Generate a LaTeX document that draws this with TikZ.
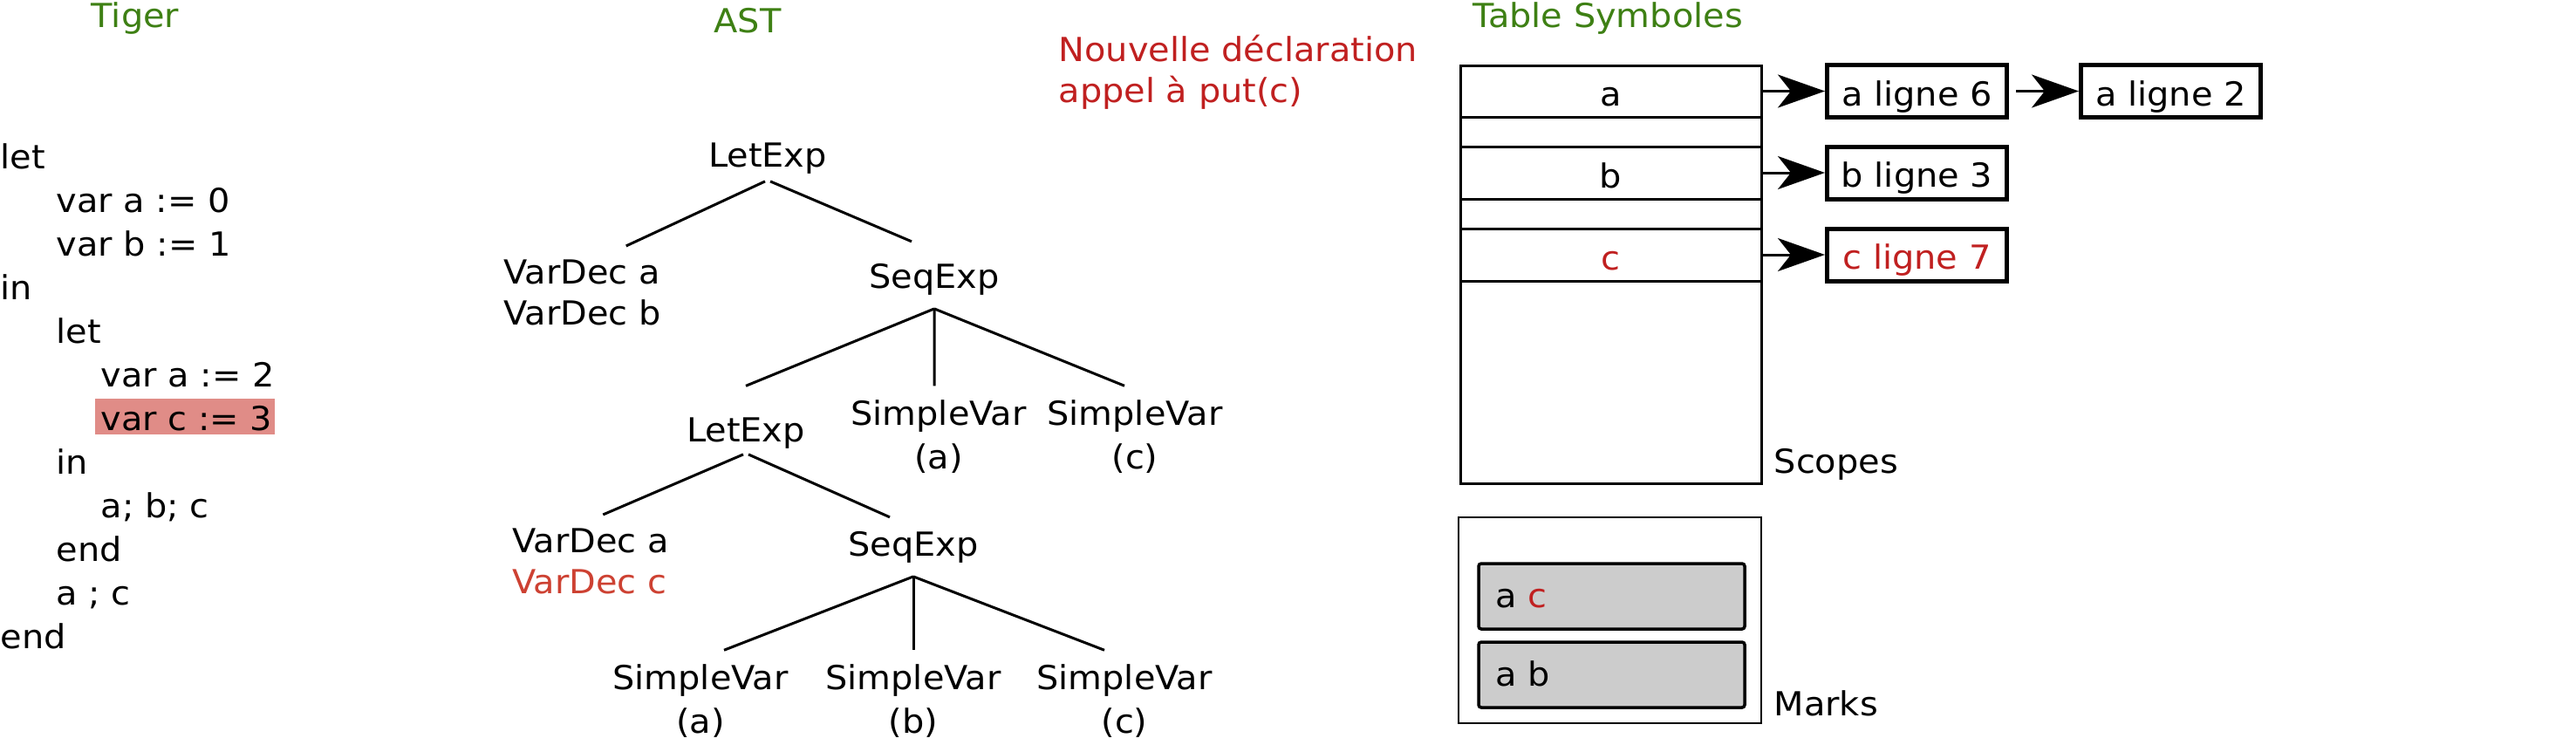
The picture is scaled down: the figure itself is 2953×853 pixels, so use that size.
\documentclass[tikz,border=0pt]{standalone}
\usepackage{fontspec}
\setmainfont{DejaVu Sans}[FakeStretch=1.05]
\usetikzlibrary{positioning, arrows.meta}

\definecolor{titlegreen}{RGB}{62,128,20}
\definecolor{declred}{RGB}{192,32,32}
\definecolor{vdred}{RGB}{205,65,50}
\definecolor{hilite}{RGB}{224,140,135}

\tikzset{
  title/.style={text=titlegreen, anchor=base},
  codeline/.style={anchor=base west},
  astnode/.style={align=center, anchor=base, outer ysep=1.6mm},
  svnode/.style={astnode, font=\fontsize{10.8}{14.2}\selectfont},
  treeline/.style={line width=0.3mm},
  tabrow/.style={draw, line width=0.3mm, minimum width=34.5mm, outer sep=0pt,
    text height=3.4mm, text depth=0pt},
  lignebox/.style={draw, line width=0.5mm, minimum width=20.6mm, minimum height=6mm,
    text height=3.3mm, text depth=0pt},
  ptr/.style={-{Stealth[length=5.4mm, width=3.8mm, inset=1.5mm]}, line width=0.3mm},
  markrow/.style={draw, fill=black!20, line width=0.35mm, rounded corners=0.3mm,
    minimum width=30.5mm, minimum height=7.5mm, text width=26.7mm, align=left,
    inner xsep=1.9mm, outer sep=0pt, text height=2.6mm, text depth=0pt},
}

\begin{document}
\begin{tikzpicture}[x=0.1mm, y=-0.1mm,
  every node/.style={font=\fontsize{10.8}{13.2}\selectfont, inner sep=0pt}]
\useasboundingbox (0,0) rectangle (2953,853);

% titles
\node[title] (tiger) at (155,31) {Tiger};
\node[title] (ast) at (857,37) {AST};
\node[title] (tabsym) at (1843,31) {Table Symboles};

% Tiger source
\fill[hilite] (109,457) rectangle (315,498);
\foreach \txt/\ind [count=\i] in {let/0, {var a := 0}/64, {var b := 1}/64, in/0,
    let/64, {var a := 2}/115, {var c := 3}/115, in/64, {a; b; c}/115, end/64,
    {a ; c}/64, end/0}
  \node[codeline] (code\i) at (\ind, {193+50*(\i-1)}) {\txt};

% AST (multi-line nodes sit on their last line)
\node[astnode] (let1) at (880,191) {LetExp};
\node[astnode, align=left, anchor=base west] (vd1) at (577,372) {VarDec a\\VarDec b};
\node[astnode] (seq1) at (1071,330) {SeqExp};
\node[astnode] (let2) at (855,506) {LetExp};
\node[svnode] (sva1) at (1076,537) {SimpleVar\\(a)};
\node[svnode] (svc1) at (1301,537) {SimpleVar\\(c)};
\node[astnode, align=left, anchor=base west] (vd2) at (587,680)
  {VarDec a\\\textcolor{vdred}{VarDec c}};
\node[astnode] (seq2) at (1047,637) {SeqExp};
\node[svnode] (sva2) at (803,840) {SimpleVar\\(a)};
\node[svnode] (svb2) at (1047,840) {SimpleVar\\(b)};
\node[svnode] (svc2) at (1289,840) {SimpleVar\\(c)};

\draw[treeline] ([xshift=-0.3mm, yshift=0.7mm]let1.south) -- ([xshift=5mm]vd1.north);
\draw[treeline] ([xshift=0.3mm, yshift=0.7mm]let1.south) -- ([xshift=-2.6mm, yshift=0.9mm]seq1.north);
\draw[treeline] (seq1.south) -- ([yshift=2mm]let2.north);
\draw[treeline] (seq1.south) -- ([xshift=-0.5mm]sva1.north);
\draw[treeline] (seq1.south) -- ([xshift=-1.2mm]svc1.north);
\draw[treeline] ([xshift=-0.3mm, yshift=0.9mm]let2.south) -- ([xshift=1.4mm]vd2.north);
\draw[treeline] ([xshift=0.3mm, yshift=0.9mm]let2.south) -- ([xshift=-2.7mm]seq2.north);
\draw[treeline] (seq2.south) -- ([xshift=2.7mm]sva2.north);
\draw[treeline] (seq2.south) -- (svb2.north);
\draw[treeline] (seq2.south) -- ([xshift=-2.3mm]svc2.north);

% note
\node[anchor=base west, align=left, text=declred] (note) at (1213,117)
  {Nouvelle déclaration\\appel à put(c)};

% symbol table: scopes
\node[tabrow, minimum height=5.9mm] (ra) at (1846.5,104.5) {a};
\node[tabrow, minimum height=3.4mm, below=0pt of ra] (gap1) {};
\node[tabrow, minimum height=6mm, below=0pt of gap1] (rb) {b};
\node[tabrow, minimum height=3.2mm, below=0pt of rb] (gap2) {};
\node[tabrow, minimum height=6mm, below=0pt of gap2, text=declred] (rc) {c};
\node[tabrow, minimum height=23.2mm, below=0pt of rc] (rrest) {};
\node[anchor=base west] (scopes) at ([xshift=1.4mm, yshift=1.2mm]rrest.south east) {Scopes};

\node[lignebox, right=7.3mm of ra] (al6) {a ligne 6};
\node[lignebox, right=8mm of al6] (al2) {a ligne 2};
\node[lignebox, right=7.3mm of rb] (bl3) {b ligne 3};
\node[lignebox, right=7.3mm of rc, text=declred] (cl7) {c ligne 7};

\draw[ptr] (ra.east) -- (al6.west);
\draw[ptr, shorten <=0.8mm] (al6.east) -- (al2.west);
\draw[ptr] (rb.east) -- (bl3.west);
\draw[ptr] (rc.east) -- (cl7.west);

% marks
\node[draw, line width=0.25mm, minimum width=34.7mm, minimum height=23.6mm,
  outer sep=0pt] (marks) at (1845.5,711) {};
\node[markrow] (mk1) at (1847.5,683.5) {a \textcolor{declred}{c}};
\node[markrow, below=1.5mm of mk1] (mk2) {a b};
\node[anchor=base west] (markslabel) at ([xshift=1.4mm, yshift=0.9mm]marks.south east) {Marks};
\end{tikzpicture}
\end{document}
